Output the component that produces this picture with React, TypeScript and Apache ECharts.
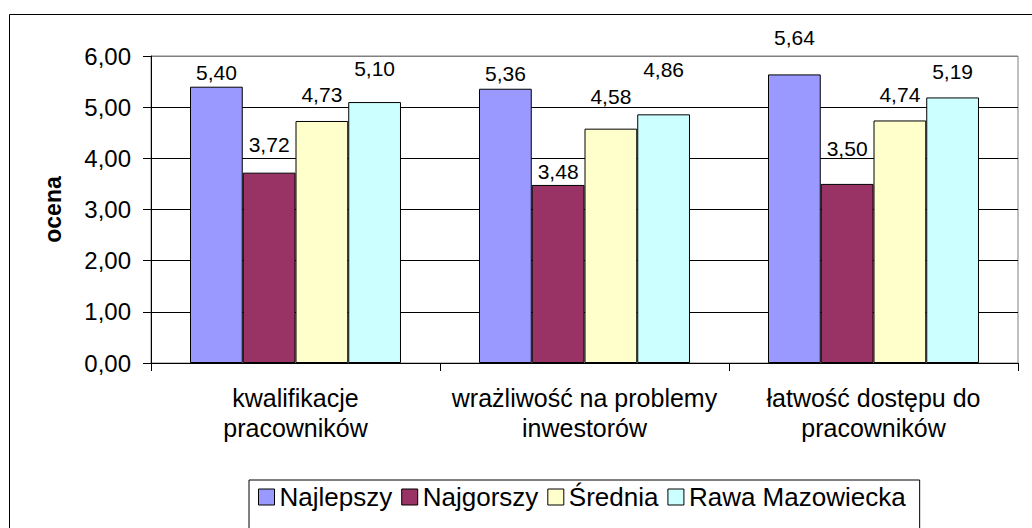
import React, { useEffect, useRef } from "react";
import * as echarts from "echarts";

const categories = [
  "kwalifikacje\npracowników",
  "wrażliwość na problemy\ninwestorów",
  "łatwość dostępu do\npracowników",
];
const seriesNames = ["Najlepszy", "Najgorszy", "Średnia", "Rawa Mazowiecka"];
const najlepszy = [5.4, 5.36, 5.64];
const najgorszy = [3.72, 3.48, 3.5];
const srednia = [4.73, 4.58, 4.74];
const rawa = [5.1, 4.86, 5.19];
const yTicks = [0, 1, 2, 3, 4, 5, 6];

const seriesValues = [najlepszy, najgorszy, srednia, rawa];
const colors = ["#9999FF", "#993366", "#FFFFCC", "#CCFFFF"];
// label lift above each bar (style only)
const labelDistances = [
  [4, 5, 26],
  [18, 3, 25],
  [16, 22, 15],
  [23, 34, 15],
];

const FONT = "'Liberation Sans', Arial, sans-serif";
const fmt = (v: number) => v.toFixed(2).replace(".", ",");

export default function App() {
  const ref = useRef<HTMLDivElement>(null);
  useEffect(() => {
    if (!ref.current) return;
    const chart = echarts.init(ref.current, undefined, { renderer: "svg" });
    chart.setOption({
      animation: false,
      backgroundColor: "#ffffff",
      textStyle: { fontFamily: FONT, color: "#000" },
      graphic: [
        {
          type: "rect",
          shape: { x: 9.5, y: 14.5, width: 1100, height: 600 },
          style: { fill: "none", stroke: "#000", lineWidth: 1 },
          silent: true,
          z: 0,
        },
      ],
      grid: {
        left: 151,
        top: 56,
        right: 14,
        bottom: 165,
        show: true,
        borderColor: "#808080",
        borderWidth: 1,
        backgroundColor: "transparent",
      },
      legend: {
        data: seriesNames,
        left: 249,
        top: 480,
        orient: "horizontal",
        icon: "rect",
        itemWidth: 16,
        itemHeight: 16,
        itemGap: 9,
        padding: [4, 14, 40, 9],
        borderColor: "#000",
        borderWidth: 1,
        backgroundColor: "#fff",
        textStyle: { fontSize: 26, fontFamily: FONT, color: "#000" },
        itemStyle: { borderColor: "#000", borderWidth: 1 },
      },
      xAxis: {
        type: "category",
        data: categories,
        axisLine: { lineStyle: { color: "#000", width: 1 } },
        axisTick: { show: true, length: 8, lineStyle: { color: "#000" } },
        axisLabel: {
          fontSize: 25,
          lineHeight: 30,
          color: "#000",
          fontFamily: FONT,
          margin: 20,
          interval: 0,
        },
      },
      yAxis: {
        type: "value",
        min: yTicks[0],
        max: yTicks[yTicks.length - 1],
        interval: 1,
        name: "ocena",
        nameLocation: "middle",
        nameRotate: 90,
        nameGap: 87,
        nameTextStyle: { fontSize: 23, fontWeight: "bold", color: "#000", fontFamily: FONT },
        axisLine: { show: true, lineStyle: { color: "#000", width: 1 } },
        axisTick: { show: true, inside: false, length: 8, lineStyle: { color: "#000" } },
        axisLabel: {
          fontSize: 24,
          color: "#000",
          fontFamily: FONT,
          margin: 20,
          formatter: (v: number) => fmt(v),
        },
        splitLine: {
          show: true,
          lineStyle: {
            color: ["#000", "#000", "#000", "#000", "#000", "#000", "#808080"],
            width: 1,
          },
        },
      },
      series: seriesValues.map((vals, si) => ({
        name: seriesNames[si],
        type: "bar",
        barGap: "0%",
        barCategoryGap: "27%",
        itemStyle: { color: colors[si], borderColor: "#000", borderWidth: 1 },
        data: vals.map((v, ci) => ({
          value: v,
          label: { distance: labelDistances[si][ci] },
        })),
        label: {
          show: true,
          position: "top",
          fontSize: 21,
          color: "#000",
          fontFamily: FONT,
          formatter: (p: any) => fmt(p.value),
        },
      })),
    });
    return () => chart.dispose();
  }, []);
  return (
    <div
      ref={ref}
      style={{ position: "fixed", left: 0, top: 0, width: 1032, height: 528 }}
    />
  );
}
